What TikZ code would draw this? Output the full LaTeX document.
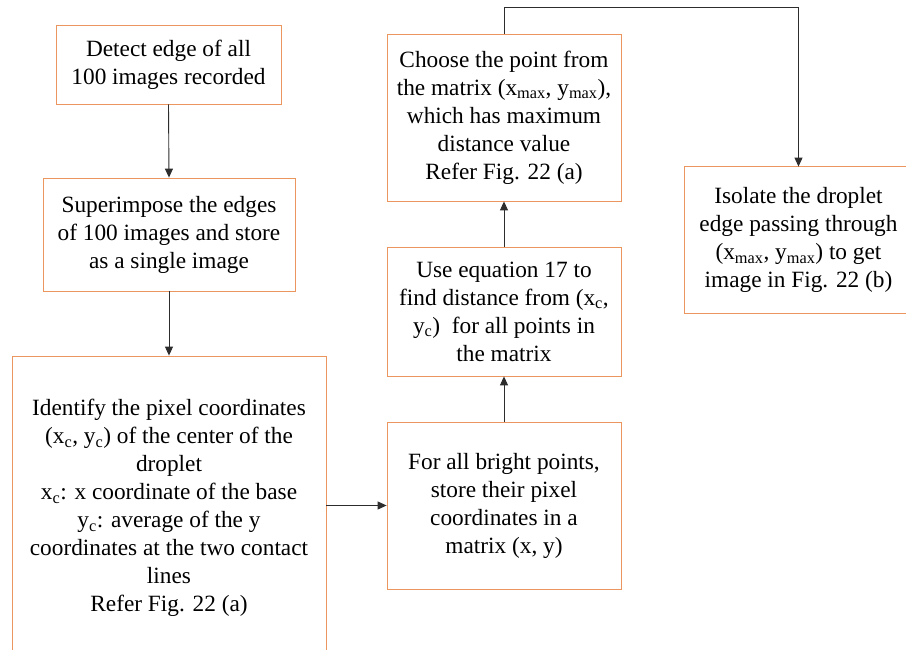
\documentclass[tikz,border=0pt]{standalone}
\usepackage{fontspec}
\setmainfont{Liberation Serif}
\usetikzlibrary{arrows.meta}
\definecolor{boxorange}{RGB}{236,150,95}
\definecolor{arrowgray}{RGB}{45,45,45}
\tikzset{
  stepbox/.style={draw=boxorange, line width=0.8pt, inner sep=0pt, align=center,
    font=\fontsize{23.3}{28}\selectfont, anchor=center},
  openbox/.style={stepbox, draw=none},
  arr/.style={draw=arrowgray, line width=0.9pt, -{Triangle[length=9pt,width=8pt]}}
}
\begin{document}
\begin{tikzpicture}[x=1pt,y=-1pt]
\useasboundingbox (0,0) rectangle (906,650);
\clip (0,0) rectangle (906,650);
\fill[white] (0,0) rectangle (906,650);
\node[stepbox, minimum width=225pt, minimum height=79pt] (b1) at (168.5,64.5)
  {Detect edge of all\\100 images recorded};
\node[stepbox, minimum width=252pt, minimum height=113pt] (b2) at (169,234.5)
  {Superimpose the edges\\of 100 images and store\\as a single image};
\node[stepbox, minimum width=314pt, minimum height=304pt] (b3) at (169,508)
  {Identify the pixel coordinates\\(x\textsubscript{c}, y\textsubscript{c}) of the center of the\\droplet\\x\textsubscript{c}: x coordinate of the base\\y\textsubscript{c}: average of the y\\coordinates at the two contact\\lines\\Refer Fig. 22 (a)};
\node[stepbox, minimum width=234pt, minimum height=167pt] (b4) at (504,505.5)
  {For all bright points,\\store their pixel\\coordinates in a\\matrix (x, y)};
\node[stepbox, minimum width=234pt, minimum height=129pt] (b5) at (504,311.5)
  {Use equation 17 to\\find distance from (x\textsubscript{c},\\y\textsubscript{c})\ \ for all points in\\the matrix};
\node[stepbox, minimum width=234pt, minimum height=167pt] (b6) at (504,117.5)
  {Choose the point from\\the matrix (x\textsubscript{max}, y\textsubscript{max}),\\which has maximum\\distance value\\Refer Fig. 22 (a)};
\node[openbox, minimum width=227pt, minimum height=146pt] (b7) at (798.5,240)
  {Isolate the droplet\\edge passing through\\(x\textsubscript{max}, y\textsubscript{max}) to get\\image in Fig. 22 (b)};
\draw[draw=boxorange, line width=0.8pt] (b7.north east) -- (b7.north west) -- (b7.south west) -- (b7.south east);
\draw[arr] (b1.south) -- (b2.north);
\draw[arr] (b2.south) -- (b3.north);
\draw[arr] (b3.east |- b4.west) -- (b4.west);
\draw[arr] (b4.north) -- (b5.south);
\draw[arr] (b5.north) -- (b6.south);
\draw[arr] (b6.north) -- ++(0,-26) -| (b7.north);
\end{tikzpicture}
\end{document}
